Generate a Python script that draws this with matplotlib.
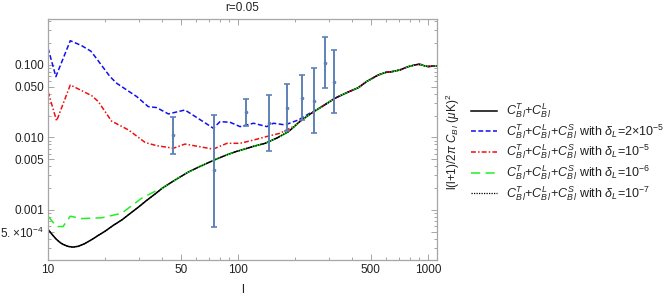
import numpy as np
import matplotlib
matplotlib.use("Agg")
import matplotlib.pyplot as plt
from matplotlib.lines import Line2D
from matplotlib.ticker import FixedLocator, NullFormatter

plt.rcParams['font.family'] = ['Liberation Sans', 'DejaVu Sans']
plt.rcParams['mathtext.fontset'] = 'custom'
plt.rcParams['mathtext.rm'] = 'Liberation Sans'
plt.rcParams['mathtext.it'] = 'Liberation Sans:italic'
plt.rcParams['mathtext.bf'] = 'Liberation Sans:bold'

# C_Bl^T + C_Bl^L
ell_black = [10, 10.5, 11, 11.5, 12, 12.7, 13.5, 14.4, 15.5, 17, 18.5, 20, 22, 24.5, 27, 30,
             33, 36.5, 40, 44, 49, 55, 62, 70, 78, 88, 98, 110, 122, 139, 160, 184, 200,
             216, 248, 285, 324, 370, 430, 475, 547, 600, 650, 712, 780, 840, 889, 920,
             960, 1000, 1050, 1115]
D_black = [5.4e-4, 4.6e-4, 4.0e-4, 3.6e-4, 3.35e-4, 3.15e-4, 3.07e-4, 3.15e-4, 3.4e-4, 3.9e-4,
           4.5e-4, 5.1e-4, 6.1e-4, 7.3e-4, 8.9e-4, 1.1e-3, 1.35e-3, 1.65e-3, 2.0e-3, 2.35e-3,
           2.8e-3, 3.35e-3, 3.9e-3, 4.5e-3, 5.1e-3, 5.8e-3, 6.4e-3, 7.0e-3, 7.6e-3, 8.3e-3,
           9.8e-3, 1.2e-2, 1.45e-2, 1.74e-2, 2.23e-2, 2.8e-2, 3.47e-2, 4.1e-2, 4.86e-2, 5.9e-2,
           7.27e-2, 7.9e-2, 8.1e-2, 8.53e-2, 9.4e-2, 9.9e-2, 1.02e-1, 1.01e-1, 9.7e-2, 9.5e-2,
           9.6e-2, 9.7e-2]

# delta_L = 2e-5 (low-l part, joins the black curve above l~248)
ell_blue = [10, 11, 13.1, 15, 16.8, 17.7, 21.2, 23, 29.3, 33.7, 37.3, 43, 52.6, 65.6, 74.1,
            80.4, 90.7, 102.5, 120.6, 141.7, 153.6, 176.7, 207.6, 239]
D_blue = [0.171, 0.069, 0.216, 0.185, 0.155, 0.130, 0.069, 0.0558, 0.0366, 0.0266, 0.0258,
          0.0211, 0.0239, 0.0165, 0.0134, 0.0165, 0.0162, 0.0141, 0.0157, 0.0141, 0.0157,
          0.0149, 0.0174, 0.0216]

# delta_L = 1e-5
ell_red = [10, 11.1, 13.1, 17, 18.4, 21.6, 26.5, 32.5, 37.3, 45.7, 52.6, 74, 87.5, 102.5,
           120.6, 141.7, 166, 195, 230]
D_red = [0.0428, 0.0169, 0.053, 0.0376, 0.0312, 0.0168, 0.0127, 0.0085, 0.0077, 0.0071,
         0.0081, 0.0069, 0.0083, 0.0083, 0.0092, 0.0103, 0.0114, 0.0141, 0.0194]

# delta_L = 1e-6
ell_green = [10, 11.1, 12, 13.1, 15, 19.2, 24.4, 31.1, 36.5]
D_green = [8.2e-4, 5.9e-4, 5.9e-4, 8.2e-4, 7.6e-4, 7.8e-4, 9.0e-4, 1.45e-3, 1.8e-3]

# data points with error bars
ell_data = [45.7, 74.8, 110, 145.6, 180, 216, 251, 287, 320]
D_data = [0.0108, 0.0035, 0.0223, 0.0157, 0.0258, 0.0354, 0.0319, 0.1076, 0.0589]
D_hi = [0.0194, 0.0204, 0.034, 0.0386, 0.054, 0.0727, 0.09, 0.245, 0.161]
D_lo = [0.0059, 5.9e-4, 0.0145, 0.0064, 0.0123, 0.0174, 0.0116, 0.0477, 0.0216]


def join_tail(ell, D):
    # above its last read point each curve sits on the black one
    e_b = np.array(ell_black)
    d_b = np.array(D_black)
    keep = e_b > ell[-1]
    return np.concatenate([ell, e_b[keep]]), np.concatenate([D, d_b[keep]])


fig = plt.figure(figsize=(6.66, 2.96), dpi=100)
ax = fig.add_axes([48 / 666, 1 - 260 / 296, (437 - 48) / 666, (260 - 19) / 296])

c_err = '#5E81B5'
styles = [
    dict(color='black', lw=1.1, ls='-'),
    dict(color='#1010ee', lw=1.1, ls=(0, (3.2, 1.6))),
    dict(color='#ee1010', lw=1.1, ls=(0, (3.2, 1.4, 1.0, 1.4))),
    dict(color='#22ee22', lw=1.1, ls=(0, (6, 3.5))),
    dict(color='black', lw=0.9, ls=(0, (1.0, 1.0))),
]

ax.plot(ell_black, D_black, **styles[0])
x, y = join_tail(ell_blue, D_blue)
ax.plot(x, y, **styles[1])
x, y = join_tail(ell_red, D_red)
ax.plot(x, y, **styles[2])
x, y = join_tail(ell_green, D_green)
ax.plot(x, y, **styles[3])
ax.plot(ell_black, D_black, **styles[4])

yerr = [np.array(D_data) - np.array(D_lo), np.array(D_hi) - np.array(D_data)]
ax.errorbar(ell_data, D_data, yerr=yerr, fmt='o', ms=1.6, color=c_err, ecolor=c_err,
            elinewidth=1.4, capsize=2.2, capthick=1.2, zorder=5)

ax.set_xscale('log')
ax.set_yscale('log')
ax.set_xlim(10, 1115)
ax.set_ylim(2.04e-4, 0.43)

xmaj = [10, 50, 100, 500, 1000]
ax.xaxis.set_major_locator(FixedLocator(xmaj))
ax.set_xticklabels(['10', '50', '100', '500', '1000'])
xmin = [v * d for d in (10, 100) for v in range(2, 10) if v != 5] + [2000]
ax.xaxis.set_minor_locator(FixedLocator(xmin))
ax.xaxis.set_minor_formatter(NullFormatter())

ymaj = [5e-4, 1e-3, 5e-3, 1e-2, 5e-2, 1e-1]
ax.yaxis.set_major_locator(FixedLocator(ymaj))
ax.set_yticklabels([r'$5.\!\times\!10^{-4}$', '0.001', '0.005', '0.010', '0.050', '0.100'])
ymin = [v * d for d in (1e-4, 1e-3, 1e-2, 1e-1) for v in range(1, 10) if v not in (1, 5)]
ax.yaxis.set_minor_locator(FixedLocator(ymin))
ax.yaxis.set_minor_formatter(NullFormatter())

frame_c = '#a6a6a6'
for s in ax.spines.values():
    s.set_color(frame_c)
    s.set_linewidth(0.9)
ax.tick_params(which='both', direction='in', top=True, right=True, color=frame_c,
               labelsize=8.5, labelcolor='#222222', width=0.7)
ax.tick_params(which='major', length=4, pad=3)
ax.tick_params(which='minor', length=2.2)

fig.text(242 / 666, 1 - 8 / 296, 'r=0.05', ha='center', va='center', fontsize=8.5, color='#222222')
fig.text(243 / 666, 1 - 290 / 296, 'l', ha='center', va='center', fontsize=9, color='#222222')
fig.text(453 / 666, 1 - 142 / 296, r'l(l+1)/2$\pi$ $C_{B\,l}$ ($\mu$K)$^2$', rotation=90,
         ha='center', va='center', fontsize=8.5, color='#222222')

base = r'$C^T_{B\,l}$+$C^L_{B\,l}$'
labels = [base,
          base + r'+$C^S_{B\,l}$ with $\delta_L$=2$\times$10$^{-5}$',
          base + r'+$C^S_{B\,l}$ with $\delta_L$=10$^{-5}$',
          base + r'+$C^S_{B\,l}$ with $\delta_L$=10$^{-6}$',
          base + r'+$C^S_{B\,l}$ with $\delta_L$=10$^{-7}$']
row_y = [110.7, 131.4, 152, 172.7, 193.4]
for st, lab, yy in zip(styles, labels, row_y):
    yf = 1 - yy / 296
    fig.add_artist(Line2D([471 / 666, 497 / 666], [yf, yf], transform=fig.transFigure, **st))
    fig.text(506 / 666, yf, lab, ha='left', va='center', fontsize=9, color='#222222')

fig.savefig('out.png', dpi=100)
